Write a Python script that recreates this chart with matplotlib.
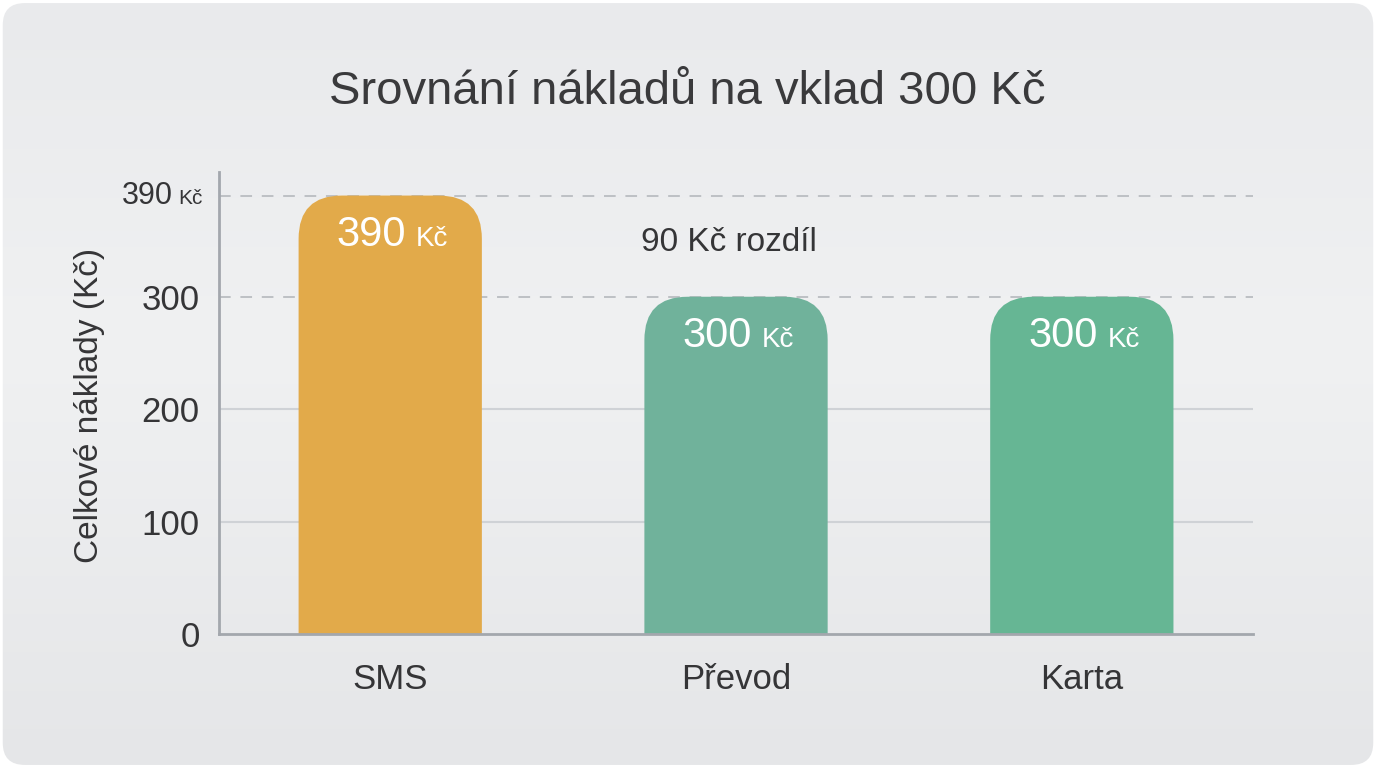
import numpy as np
import matplotlib.pyplot as plt
import matplotlib.transforms as mtransforms
from matplotlib.patches import FancyBboxPatch

# data
kategorie = ["SMS", "Převod", "Karta"]
naklady = [390, 300, 300]
barvy = ["#E2AA4A", "#70B29B", "#66B694"]
yticks = [0, 100, 200, 300]
rozdil = naklady[0] - naklady[1]

plt.rcParams['font.family'] = ['Liberation Sans', 'DejaVu Sans']
TEXT = "#353537"

fig = plt.figure(figsize=(13.76, 7.68), dpi=100)
fig.patch.set_facecolor("white")

# background card with soft vertical gradient
bg = fig.add_axes([0, 0, 1, 1], zorder=-10)
bg.set_axis_off()
bg.set_xlim(0, 1)
bg.set_ylim(0, 1)
stops = np.array([0.0, 0.55, 1.0])
cols = np.array([[229, 230, 232], [240, 241, 242], [233, 234, 236]]) / 255
yy = np.linspace(0, 1, 400)
grad = np.stack([np.interp(yy, stops, cols[:, k]) for k in range(3)], axis=-1)[:, None, :]
img = bg.imshow(grad, extent=[0, 1, 1, 0], aspect="auto", origin="upper")
bg.set_ylim(0, 1)
card = FancyBboxPatch((0.002, 0.004), 0.996, 0.992,
                      boxstyle="round,pad=0,rounding_size=0.016",
                      mutation_aspect=1376 / 768, transform=bg.transAxes,
                      facecolor="none", edgecolor="none")
bg.add_patch(card)
img.set_clip_path(card)

# main axes
ax = fig.add_axes([0.1592, 0.1745, 0.7514, 0.6016])
ax.set_facecolor("none")
ax.set_xlim(-0.495, 2.495)
ax.set_ylim(0, 411)

# grid lines
for v in yticks[1:]:
    if v in naklady:
        continue
    ax.axhline(v, color="#CFD2D6", lw=1.5, zorder=1)
for v in sorted(set(naklady)):
    ax.axhline(v, color="#BDC0C4", lw=1.4, dashes=(6, 5), zorder=1)

# rounded bars
w = 0.53
r = 0.125
px_x = 1034 / 2.99
px_y = 462 / 411
asp = px_x / px_y
for i, (v, c) in enumerate(zip(naklady, barvy)):
    p = FancyBboxPatch((i - w / 2, -80), w, v + 80,
                       boxstyle=f"round,pad=0,rounding_size={r}",
                       mutation_aspect=asp, facecolor=c, edgecolor="none", zorder=2)
    ax.add_patch(p)

for s in ["top", "right"]:
    ax.spines[s].set_visible(False)
for s in ["left", "bottom"]:
    ax.spines[s].set_color("#A3A7AD")
    ax.spines[s].set_linewidth(2)
    ax.spines[s].set_zorder(3)

ax.set_yticks(yticks)
ax.set_yticklabels([str(v) for v in yticks])
ax.set_xticks(range(len(kategorie)))
ax.set_xticklabels(kategorie)
ax.tick_params(axis="y", length=0, pad=14, labelsize=25, labelcolor=TEXT)
ax.tick_params(axis="x", length=0, pad=21, labelsize=25, labelcolor=TEXT)

renderer = fig.canvas.get_renderer()


def popisek(x, y, cislo, s_big, s_small, color, align, trans, dx=0, dy=0, gap=8):
    t1 = ax.text(x, y, cislo, fontsize=s_big, color=color, va="baseline", ha="left",
                 transform=trans, zorder=4)
    t2 = ax.text(x, y, "Kč", fontsize=s_small, color=color, va="baseline", ha="left",
                 transform=trans, zorder=4)
    w1 = t1.get_window_extent(renderer).width
    w2 = t2.get_window_extent(renderer).width
    total = w1 + gap + w2
    start = -total / 2 if align == "center" else -total
    t1.set_transform(mtransforms.offset_copy(trans, x=dx + start, y=dy, units="dots"))
    t2.set_transform(mtransforms.offset_copy(trans, x=dx + start + w1 + gap, y=dy, units="dots"))


# value labels inside bars
for i, v in enumerate(naklady):
    popisek(i, v, str(v), 30, 20, "white", "center", ax.transData, dx=2, dy=-50, gap=10)

# extra tick label for the top value
popisek(0, naklady[0], str(naklady[0]), 22, 15, TEXT, "right",
        ax.get_yaxis_transform(), dx=-16, dy=-8, gap=6)

# difference note
ax.text(1, (naklady[0] + naklady[1]) / 2, f"{rozdil} Kč rozdíl", fontsize=24,
        color=TEXT, ha="center", va="center",
        transform=mtransforms.offset_copy(ax.transData, x=-7, y=4, units="dots"))

fig.text(0.4997, 1 - 92 / 768, "Srovnání nákladů na vklad 300 Kč", fontsize=34,
         color="#3A3A3C", ha="center", va="center")
fig.text(90 / 1376, 1 - 405 / 768, "Celkové náklady (Kč)", fontsize=24, color=TEXT,
         rotation=90, ha="center", va="center")

fig.savefig("out.png", dpi=100)
